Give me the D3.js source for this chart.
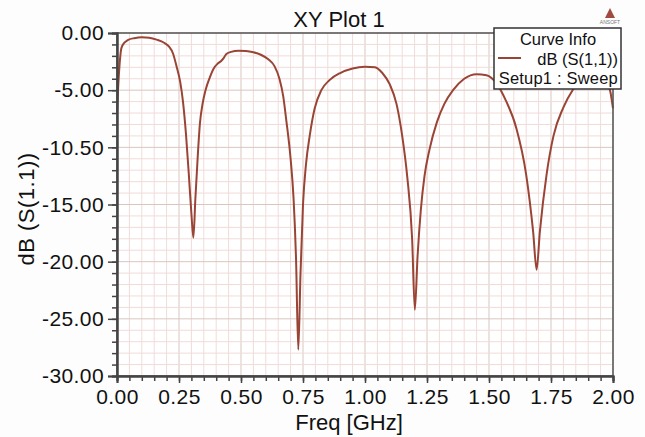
<!DOCTYPE html>
<html>
<head>
<meta charset="utf-8">
<script src="https://cdn.jsdelivr.net/npm/d3@7"></script>
<style>
  html, body { margin: 0; padding: 0; background: #fdfdfd; }
  svg { display: block; font-family: "Liberation Sans", Arial, sans-serif; }
</style>
</head>
<body>
<svg id="chart" width="645" height="437"></svg>
<script>
// ---- data ----
const freq = [0.000, 0.008, 0.018, 0.030, 0.045, 0.070, 0.100, 0.130, 0.160, 0.190, 0.210, 0.225, 0.240, 0.255, 0.266, 0.278, 0.290, 0.300, 0.308, 0.316, 0.325, 0.334, 0.345, 0.357, 0.374, 0.390, 0.405, 0.420, 0.430, 0.440, 0.460, 0.490, 0.520, 0.550, 0.580, 0.610, 0.635, 0.655, 0.670, 0.683, 0.700, 0.712, 0.722, 0.731, 0.740, 0.750, 0.762, 0.777, 0.797, 0.824, 0.858, 0.900, 0.950, 1.000, 1.040, 1.070, 1.100, 1.127, 1.150, 1.170, 1.190, 1.201, 1.212, 1.225, 1.240, 1.260, 1.290, 1.320, 1.355, 1.400, 1.450, 1.490, 1.530, 1.570, 1.610, 1.650, 1.678, 1.692, 1.705, 1.732, 1.760, 1.800, 1.840, 1.880, 1.920, 1.950, 1.970, 1.990, 2.000];
const s11dB = [-6.9, -3.5, -1.3, -0.85, -0.6, -0.45, -0.38, -0.42, -0.58, -0.85, -1.2, -1.75, -2.9, -4.3, -6.0, -8.8, -12.5, -15.8, -17.9, -14.5, -11.0, -8.0, -6.2, -5.0, -3.9, -3.1, -2.7, -2.45, -2.2, -1.85, -1.65, -1.55, -1.57, -1.68, -1.9, -2.3, -2.9, -4.0, -5.5, -7.7, -11.0, -14.5, -19.8, -27.7, -21.0, -15.0, -11.5, -9.0, -6.6, -5.0, -4.1, -3.5, -3.1, -2.95, -3.0, -3.5, -4.5, -6.2, -9.0, -12.5, -18.0, -24.2, -19.5, -15.5, -12.5, -10.2, -7.8, -6.2, -5.0, -4.0, -3.6, -3.7, -4.4, -6.0, -8.3, -12.4, -17.4, -20.7, -17.4, -12.4, -9.0, -6.5, -4.9, -3.8, -3.2, -3.3, -4.0, -5.2, -6.6];
const xTickValues = [0, 0.25, 0.5, 0.75, 1.0, 1.25, 1.5, 1.75, 2.0];
const xTickLabels = ["0.00", "0.25", "0.50", "0.75", "1.00", "1.25", "1.50", "1.75", "2.00"];
const yTickValues = [0, -5, -10, -15, -20, -25, -30];
const yTickLabels = ["0.00", "-5.00", "-10.50", "-15.00", "-20.00", "-25.00", "-30.00"];
const titleText = "XY Plot 1";
const xTitle = "Freq [GHz]";
const yTitle = "dB (S(1.1))";
const legendTitle = "Curve Info";
const legendSeries = "dB (S(1,1))";
const legendSetup = "Setup1 : Sweep";

// ---- layout ----
const svg = d3.select("#chart");
const L = 117, R = 613, T = 33, B = 376;
const x = d3.scaleLinear().domain([0, 2]).range([L, R]);
const y = d3.scaleLinear().domain([-30, 0]).range([B, T]);
const curveColor = "#9a4436";

// plot background
svg.append("rect").attr("x", L).attr("y", T).attr("width", R - L).attr("height", B - T).attr("fill", "#ffffff");

// grid
const g = svg.append("g");
const xMinor = d3.range(0, 2.0001, 0.05);
const yMinor = d3.range(-30, 0.0001, 1);
g.selectAll(".vmin").data(xMinor).join("line")
  .attr("x1", d => x(d)).attr("x2", d => x(d)).attr("y1", T).attr("y2", B)
  .attr("stroke", d => Math.abs(d / 0.25 - Math.round(d / 0.25)) < 1e-6 ? "#d9c6bf" : "#f0dcd9")
  .attr("stroke-width", 1);
g.selectAll(".hmin").data(yMinor).join("line")
  .attr("y1", d => y(d)).attr("y2", d => y(d)).attr("x1", L).attr("x2", R)
  .attr("stroke", d => Math.abs(d % 5) < 1e-6 ? "#d9c6bf" : "#f0dcd9")
  .attr("stroke-width", 1);

// curve
const pts = freq.map((f, i) => [f, s11dB[i]]);
svg.append("path").datum(pts)
  .attr("d", d3.line().x(d => x(d[0])).y(d => y(d[1])).curve(d3.curveMonotoneX))
  .attr("fill", "none").attr("stroke", curveColor).attr("stroke-width", 2);

// frame
svg.append("rect").attr("x", L).attr("y", T).attr("width", R - L).attr("height", B - T)
  .attr("fill", "none").attr("stroke", "#555").attr("stroke-width", 1.5);

// axes
const yAxisMinor = d3.axisLeft(y).tickValues(yMinor).tickSize(5).tickFormat("");
const yAxisMajor = d3.axisLeft(y).tickValues(yTickValues).tickSize(9).tickPadding(4)
  .tickFormat((d, i) => yTickLabels[i]);
const xAxisMinor = d3.axisBottom(x).tickValues(xMinor).tickSize(5).tickFormat("");
const xAxisMajor = d3.axisBottom(x).tickValues(xTickValues).tickSize(7).tickPadding(6)
  .tickFormat((d, i) => xTickLabels[i]);

function styleAxis(sel) {
  sel.select(".domain").attr("stroke", "#444").attr("stroke-width", 2);
  sel.selectAll(".tick line").attr("stroke", "#444").attr("stroke-width", 1.5);
  sel.selectAll(".tick text").attr("fill", "#111").style("font-size", "21px")
    .style("letter-spacing", "0.4px")
    .style("font-family", "'Liberation Sans', Arial, sans-serif");
}
svg.append("g").attr("transform", `translate(${L},0)`).call(yAxisMinor).call(styleAxis);
svg.append("g").attr("transform", `translate(${L},0)`).call(yAxisMajor).call(styleAxis);
svg.append("g").attr("transform", `translate(0,${B})`).call(xAxisMinor).call(styleAxis);
svg.append("g").attr("transform", `translate(0,${B})`).call(xAxisMajor).call(styleAxis);

// titles
svg.append("text").attr("x", 339).attr("y", 27).attr("text-anchor", "middle")
  .style("font-size", "22px").attr("fill", "#111").text(titleText);
svg.append("text").attr("x", 349).attr("y", 430).attr("text-anchor", "middle")
  .style("font-size", "22px").attr("fill", "#111").text(xTitle);
svg.append("text").attr("transform", "translate(34,209) rotate(-90)").attr("text-anchor", "middle")
  .style("font-size", "22px").style("letter-spacing", "0.5px").attr("fill", "#111").text(yTitle);

// legend
const lg = svg.append("g");
lg.append("rect").attr("x", 494).attr("y", 28).attr("width", 127).attr("height", 61)
  .attr("fill", "#ffffff").attr("stroke", "#333").attr("stroke-width", 1.5);
lg.append("text").attr("x", 558).attr("y", 45).attr("text-anchor", "middle")
  .style("font-size", "16.5px").attr("fill", "#111").text(legendTitle);
lg.append("line").attr("x1", 498).attr("x2", 521).attr("y1", 58).attr("y2", 58)
  .attr("stroke", curveColor).attr("stroke-width", 2);
lg.append("text").attr("x", 618).attr("y", 64.5).attr("text-anchor", "end")
  .style("font-size", "16.5px").attr("fill", "#111").text(legendSeries);
lg.append("text").attr("x", 618).attr("y", 84).attr("text-anchor", "end")
  .style("font-size", "16.5px").style("letter-spacing", "0.2px").attr("fill", "#111").text(legendSetup);

// ANSOFT logo
const logo = svg.append("g");
logo.append("path").attr("d", "M610,8 L615,18 L605,18 Z").attr("fill", "#a04a40");
logo.append("text").attr("x", 610).attr("y", 24).attr("text-anchor", "middle")
  .style("font-size", "5px").attr("fill", "#777").text("ANSOFT");
</script>
</body>
</html>
